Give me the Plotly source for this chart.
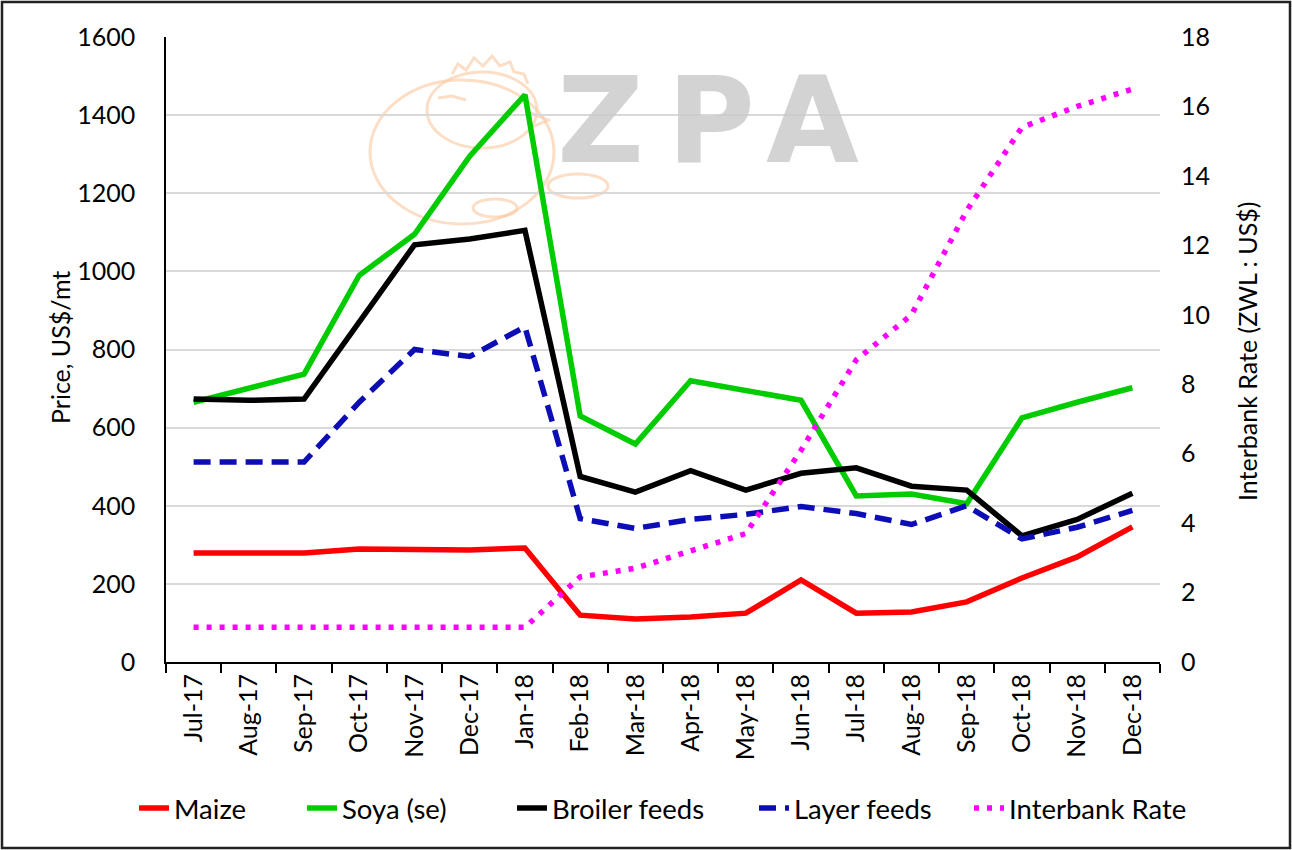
import plotly.graph_objects as go

months = ["Jul-17", "Aug-17", "Sep-17", "Oct-17", "Nov-17", "Dec-17", "Jan-18",
          "Feb-18", "Mar-18", "Apr-18", "May-18", "Jun-18", "Jul-18", "Aug-18",
          "Sep-18", "Oct-18", "Nov-18", "Dec-18"]

maize = [279, 279, 279, 289, 287, 287, 292, 120, 110, 115, 125, 210, 125, 128,
         154, 215, 269, 346]
soya = [665, 700, 737, 990, 1095, 1295, 1452, 630, 558, 720, 695, 670, 425, 430,
        405, 625, 665, 702]
broiler = [673, 670, 673, 870, 1068, 1083, 1105, 475, 435, 490, 440, 483, 497, 450,
           440, 323, 365, 432]
layer = [512, 512, 512, 665, 800, 782, 858, 367, 342, 365, 378, 398, 380, 352,
         400, 315, 345, 388]
interbank = [1.0, 1.0, 1.0, 1.0, 1.0, 1.0, 1.0, 2.45, 2.7, 3.2, 3.7, 6.1, 8.7, 10.0,
             13.0, 15.4, 16.0, 16.5]

FONT = "Lato"
FS = 25
LFS = 27.5
W, H = 1292, 850
L, R, T, B = 166, 1160, 37, 662


def px(x, y):
    return (x - L) / (R - L), (B - y) / (B - T)


LW = 5.5
fig = go.Figure()
fig.add_trace(go.Scatter(x=months, y=maize, name="Maize", mode="lines",
                         legend="legend",
                         line=dict(color="#ff0000", width=LW)))
fig.add_trace(go.Scatter(x=months, y=soya, name="Soya (se)", mode="lines",
                         legend="legend2",
                         line=dict(color="#00cc00", width=LW)))
fig.add_trace(go.Scatter(x=months, y=broiler, name="Broiler feeds", mode="lines",
                         legend="legend3",
                         line=dict(color="#000000", width=LW)))
fig.add_trace(go.Scatter(x=months, y=layer, name="Layer feeds", mode="lines",
                         legend="legend4",
                         line=dict(color="#0d0db5", width=LW, dash="17px,9px")))
fig.add_trace(go.Scatter(x=months, y=interbank, name="Interbank Rate", mode="lines",
                         yaxis="y2", legend="legend5",
                         line=dict(color="#ff00ff", width=LW, dash="5px,8px")))

shapes = []
peach = "rgba(250,200,160,0.6)"


def ell(cx, cy, rx, ry):
    x0, y0 = px(cx - rx, cy + ry)
    x1, y1 = px(cx + rx, cy - ry)
    return dict(type="circle", xref="paper", yref="paper", x0=x0, y0=y0,
                x1=x1, y1=y1, line=dict(color=peach, width=3), layer="below")


def path(points):
    d = ""
    for i, (x, y) in enumerate(points):
        a, b = px(x, y)
        d += ("M" if i == 0 else "L") + f"{a:.5f},{b:.5f} "
    return dict(type="path", xref="paper", yref="paper", path=d,
                line=dict(color=peach, width=3), layer="below")


shapes.append(ell(462, 152, 92, 72))   # body
shapes.append(ell(482, 110, 55, 38))   # head
shapes.append(ell(578, 186, 30, 12))   # tail
shapes.append(ell(495, 208, 22, 9))    # feet
shapes.append(path([(452, 74), (458, 64), (466, 70), (474, 58), (483, 66),
                    (492, 56), (500, 66), (510, 62), (514, 72), (524, 74),
                    (528, 84)]))        # comb
shapes.append(path([(438, 98), (452, 96), (466, 100)]))  # eye
shapes.append(path([(528, 112), (548, 120), (530, 128)]))  # beak

# outer border
ox0, oy0 = px(2, 848)
ox1, oy1 = px(1290, 2)
shapes.append(dict(type="rect", xref="paper", yref="paper", x0=ox0, y0=oy0,
                   x1=ox1, y1=oy1, line=dict(color="#222222", width=2.5),
                   layer="above"))

annotations = []
for letter, cx in (("Z", 600), ("P", 711), ("A", 812)):
    ax, ay = px(cx, 121)
    annotations.append(dict(text="<b>" + letter + "</b>", x=ax, y=ay,
                            xref="paper", yref="paper",
                            xanchor="center", yanchor="middle", showarrow=False,
                            font=dict(family="DejaVu Sans", size=120,
                                      color="rgba(200,200,200,0.8)")))

# axis titles
tx, ty = px(60, 348)
annotations.append(dict(text="Price, US$/mt", x=tx, y=ty, xref="paper",
                        yref="paper", textangle=-90, showarrow=False,
                        xanchor="center", yanchor="middle",
                        font=dict(family=FONT, size=FS)))
tx, ty = px(1247, 352)
annotations.append(dict(text="Interbank Rate (ZWL : US$)", x=tx, y=ty,
                        xref="paper", yref="paper", textangle=-90,
                        showarrow=False, xanchor="center", yanchor="middle",
                        font=dict(family=FONT, size=FS)))

legend_text_x = [175, 343, 553, 795, 1010]
legends = {}
for i, txp in enumerate(legend_text_x):
    lx, ly = px(txp - 41, 808)
    key = "legend" if i == 0 else f"legend{i + 1}"
    legends[key] = dict(orientation="h", x=lx, y=ly, xanchor="left",
                        yanchor="middle", font=dict(family=FONT, size=LFS),
                        bgcolor="rgba(0,0,0,0)")

fig.update_layout(
    width=W, height=H,
    margin=dict(l=L, r=W - R, t=T, b=H - B, pad=0, autoexpand=False),
    paper_bgcolor="white", plot_bgcolor="white",
    font=dict(family=FONT, size=FS, color="#000000"),
    showlegend=True,
    xaxis=dict(type="category", tickangle=-90, tickson="boundaries",
               ticks="outside", ticklen=9, tickwidth=2, tickcolor="black",
               showline=True, linecolor="black", linewidth=2,
               showgrid=False, tickfont=dict(family=FONT, size=FS),
               range=[-0.5, 17.5], automargin=False),
    yaxis=dict(range=[0, 1600], dtick=200, showgrid=True, gridcolor="#d9d9d9",
               gridwidth=2, showline=True, linecolor="black", linewidth=1.5,
               zeroline=False, ticks="", tickfont=dict(family=FONT, size=FS),
               ticklabelstandoff=24, automargin=False),
    yaxis2=dict(range=[0, 18], dtick=2, overlaying="y", side="right",
                showgrid=False, showline=False, zeroline=False, ticks="",
                tickfont=dict(family=FONT, size=FS), ticklabelstandoff=20,
                automargin=False),
    shapes=shapes,
    annotations=annotations,
    **legends,
)

fig.write_html("out.html", config={"displayModeBar": False},
               post_script="document.body.style.margin='0';")
